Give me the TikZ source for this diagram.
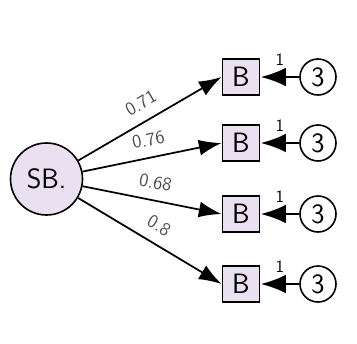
\documentclass[tikz,border=0pt]{standalone}
\usetikzlibrary{arrows.meta}
\definecolor{lat}{HTML}{E9E1F2}
\begin{document}
\begin{tikzpicture}[x=0.75pt,y=-0.75pt,
  big/.style={font=\sffamily\fontsize{21}{24}\selectfont},
  latent/.style={big,circle,draw,line width=1.2pt,fill=lat,minimum size=54pt,inner sep=0pt},
  obs/.style={big,rectangle,draw,line width=1.2pt,fill=lat,minimum width=28pt,minimum height=27pt,inner sep=0pt},
  err/.style={big,circle,draw,line width=1.2pt,fill=white,minimum size=27pt,inner sep=0pt},
  load/.style={draw,line width=1.3pt,-{Latex[length=17pt,width=12pt]}},
  eload/.style={draw,line width=2pt,-{Latex[length=19pt,width=14pt]}},
  lab/.style={font=\sffamily\fontsize{14}{16}\selectfont,text=black!70,sloped,above=8pt,inner sep=0pt}]
\useasboundingbox (0,0) rectangle (357,343);
\node[latent] (f) at (46.5,179) {SB.};
\foreach \i/\y/\w in {1/77/0.71,2/143/0.76,3/214/0.68,4/284/0.8}{
  \node[obs] (b\i) at (241,\y) {B};
  \node[err] (e\i) at (318,\y) {3};
  \draw[load] (f) -- node[lab,pos=0.5] {\w} (b\i.west);
  \draw[eload] (e\i) -- node[font=\sffamily\fontsize{13}{15}\selectfont,above=4pt,pos=0.5] {1} (b\i);
}
\end{tikzpicture}
\end{document}
